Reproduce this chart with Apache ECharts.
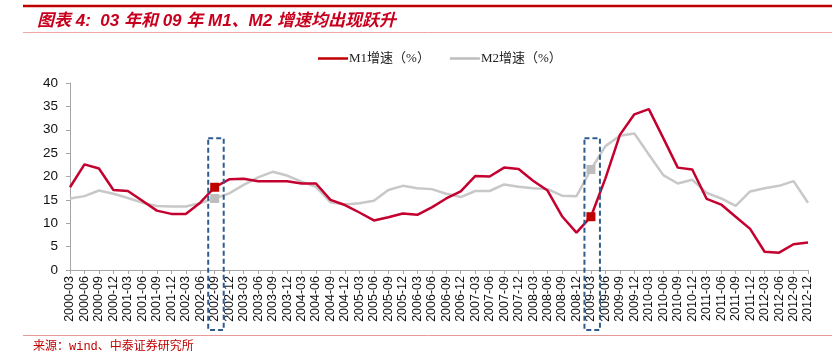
<!DOCTYPE html>
<html>
<head>
<meta charset="utf-8">
<script src="https://cdn.jsdelivr.net/npm/echarts@6/dist/echarts.min.js"></script>
<style>
html,body{margin:0;padding:0;background:#fff;}
#c{width:832px;height:362px;}
</style>
</head>
<body>
<div id="c"></div>
<script>
const categories = ['2000-03','2000-06','2000-09','2000-12','2001-03','2001-06','2001-09','2001-12','2002-03','2002-06','2002-09','2002-12','2003-03','2003-06','2003-09','2003-12','2004-03','2004-06','2004-09','2004-12','2005-03','2005-06','2005-09','2005-12','2006-03','2006-06','2006-09','2006-12','2007-03','2007-06','2007-09','2007-12','2008-03','2008-06','2008-09','2008-12','2009-03','2009-06','2009-09','2009-12','2010-03','2010-06','2010-09','2010-12','2011-03','2011-06','2011-09','2011-12','2012-03','2012-06','2012-09','2012-12'];
const m1 = [17.7,22.6,21.7,17.1,16.9,14.8,12.7,12.0,12.0,14.4,17.7,19.4,19.5,19.0,19.0,19.0,18.5,18.5,15.0,13.9,12.3,10.6,11.3,12.1,11.8,13.4,15.3,16.8,20.1,20.0,21.9,21.6,19.1,17.0,11.5,8.0,11.4,19.6,28.9,33.3,34.4,28.2,21.9,21.5,15.2,14.0,11.4,8.8,3.9,3.7,5.5,5.9];
const m2 = [15.3,15.8,17.0,16.3,15.4,14.4,13.7,13.6,13.6,14.3,15.3,16.4,18.2,19.8,21.0,20.2,18.9,17.8,14.5,14.0,14.3,14.8,17.1,18.0,17.5,17.3,16.3,15.6,16.9,16.9,18.3,17.8,17.5,17.3,15.9,15.8,21.5,26.5,28.7,29.2,24.7,20.3,18.5,19.3,16.5,15.3,13.7,16.8,17.5,18.0,19.0,14.4];
const highlightCats = ['2002-09','2009-03'];
const yTicks = [0,5,10,15,20,25,30,35,40];
const seriesNames = ['M1增速（%）','M2增速（%）'];
const titleText = '图表 4:  03 年和 09 年 M1、M2 增速均出现跃升';
const sourceText = '来源：wind、中泰证券研究所';

const hiIdx = highlightCats.map(c => categories.indexOf(c));
const chart = echarts.init(document.getElementById('c'), null, {renderer:'canvas'});
const RED = '#C4002F';
const GRAY = '#C8C8C8';
const symSize = (v, p) => hiIdx.includes(p.dataIndex) ? 9 : 0;

const staticGraphics = [
  {id:'topline', type:'line', shape:{x1:23,y1:6,x2:832,y2:6}, style:{stroke:'#C00000',lineWidth:2.5}, silent:true},
  {id:'titleline', type:'line', shape:{x1:23,y1:32.5,x2:832,y2:32.5}, style:{stroke:'#F2A6A6',lineWidth:1}, silent:true},
  {id:'srcline', type:'line', shape:{x1:23,y1:335.5,x2:832,y2:335.5}, style:{stroke:'#E89A9A',lineWidth:1}, silent:true},
  {id:'src', type:'text', left:33, top:341, style:{text:sourceText, fill:'#C00000', font:'12px "Liberation Mono", "Noto Sans CJK SC", monospace'}, silent:true}
];

chart.setOption({
  animation:false,
  backgroundColor:'#fff',
  title:{text:titleText, left:32, top:8, textStyle:{color:'#C8001E', fontSize:17, fontWeight:'bold', fontStyle:'italic', fontFamily:'Arial, "Liberation Sans", "Noto Sans CJK SC"'}},
  legend:{left:313, top:47, itemWidth:30, itemHeight:2.5, itemGap:20, icon:'rect',
    textStyle:{fontSize:13, color:'#222', fontFamily:'"Liberation Serif", "Noto Sans CJK SC", serif', padding:[0,0,0,-4]},
    data:seriesNames},
  grid:{left:70, right:24, top:83, bottom:92, containLabel:false},
  xAxis:{type:'category', data:categories, boundaryGap:false,
    axisLine:{lineStyle:{color:'#A6A6A6', width:1}},
    axisTick:{show:true, interval:0, length:4, lineStyle:{color:'#A6A6A6'}},
    axisLabel:{interval:0, rotate:90, fontSize:12.5, color:'#111', margin:6, fontFamily:'Arial, "Liberation Sans"'}},
  yAxis:{type:'value', min:0, max:40, interval:5,
    axisLine:{show:true, lineStyle:{color:'#A6A6A6'}},
    axisTick:{show:true, length:4, lineStyle:{color:'#A6A6A6'}},
    splitLine:{show:false},
    axisLabel:{fontSize:13.5, color:'#111', margin:12, fontFamily:'Arial, "Liberation Sans"'}},
  series:[
    {name:seriesNames[1], type:'line', data:m2, symbol:'rect', symbolSize:symSize, showAllSymbol:true,
      lineStyle:{color:GRAY, width:2.5}, itemStyle:{color:'#BDBDBD'}, z:2},
    {name:seriesNames[0], type:'line', data:m1, symbol:'rect', symbolSize:symSize, showAllSymbol:true,
      lineStyle:{color:RED, width:2.5}, itemStyle:{color:'#C00000'}, z:3}
  ],
  graphic: staticGraphics
});

const boxes = hiIdx.map((idx, k) => {
  const cx = chart.convertToPixel({xAxisIndex:0}, categories[idx]);
  const yTop = chart.convertToPixel({yAxisIndex:0}, 28.2);
  const yBase = chart.convertToPixel({yAxisIndex:0}, 0);
  return {id:'box'+k, type:'rect', shape:{x:cx-6.5, y:yTop, width:15.5, height:(yBase + 60) - yTop},
    style:{fill:'none', stroke:'#2F5C8F', lineWidth:2, lineDash:[5,3]}, z:100, silent:true};
});
chart.setOption({graphic: staticGraphics.concat(boxes)});
</script>
</body>
</html>
